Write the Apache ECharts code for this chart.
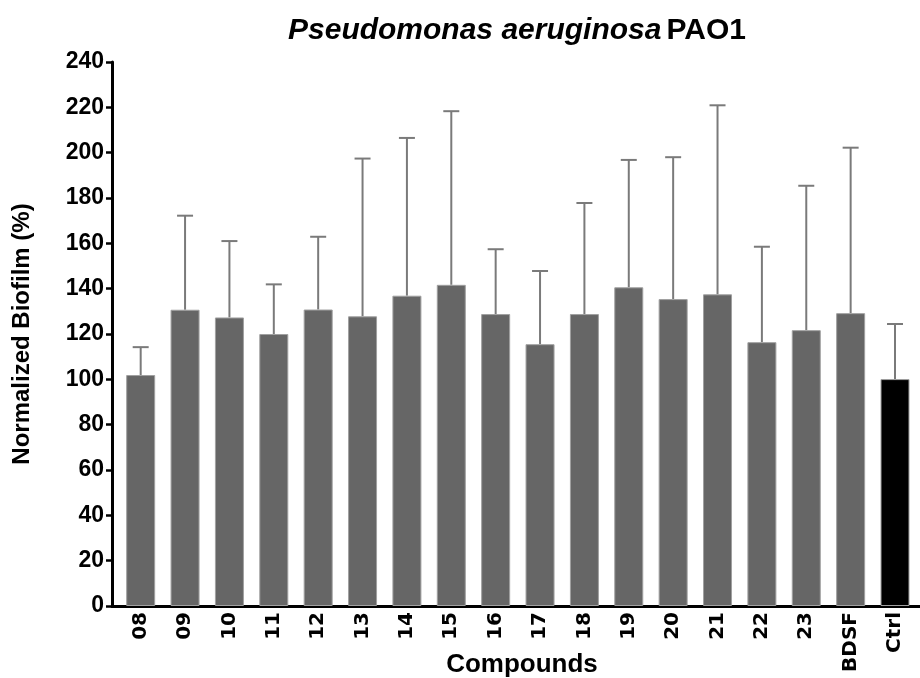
<!DOCTYPE html>
<html>
<head>
<meta charset="utf-8">
<script src="https://cdn.jsdelivr.net/npm/echarts@6/dist/echarts.min.js"></script>
<style>
  html, body { margin: 0; padding: 0; background: #fff; }
  #chart { width: 920px; height: 678px; }
</style>
</head>
<body>
<div id="chart"></div>
<script>
const categories = ['08','09','10','11','12','13','14','15','16','17','18','19','20','21','22','23','BDSF','Ctrl'];
const means = [101.9,130.7,127.3,120.0,130.8,127.8,136.9,141.7,128.8,115.5,128.8,140.6,135.4,137.5,116.4,121.7,129.2,100.1];
const sds = [12.3,41.5,33.7,21.9,32.1,69.6,69.6,76.6,28.6,32.3,49.0,56.2,62.6,83.4,42.1,63.7,73.0,24.3];
const yTicks = { min: 0, max: 240, interval: 20 };

const chart = echarts.init(document.getElementById('chart'), null, { renderer: 'canvas' });

const barData = means.map((v, i) => ({
  value: v,
  itemStyle: { color: categories[i] === 'Ctrl' ? '#000000' : '#666666' }
}));
const errData = means.map((v, i) => [i, v, v + sds[i]]);

const labelFont = 'DejaVu Sans';
const nameFont = 'Liberation Sans, Arial, Helvetica, sans-serif';

chart.setOption({
  animation: false,
  backgroundColor: '#ffffff',
  title: {
    left: 283,
    top: 11,
    text: '{i|Pseudomonas aeruginosa} {b|PAO1}',
    textStyle: {
      rich: {
        i: { fontFamily: nameFont, fontSize: 30, fontWeight: 'bold', fontStyle: 'italic', color: '#000' },
        b: { fontFamily: nameFont, fontSize: 30, fontWeight: 'bold', color: '#000' }
      }
    }
  },
  grid: [
    { left: 118.5, right: 2.8, top: 62, bottom: 72, containLabel: false, outerBoundsMode: 'none' },
    { left: 112, right: 0, top: 62, bottom: 72, containLabel: false, outerBoundsMode: 'none' }
  ],
  xAxis: [
    {
      type: 'category',
      gridIndex: 0,
      data: categories,
      axisLine: { show: false },
      axisTick: { show: false },
      axisLabel: {
        rotate: 90,
        margin: 6,
        interval: 0,
        fontFamily: labelFont,
        fontSize: 20,
        fontWeight: 'bold',
        color: '#000'
      }
    },
    {
      type: 'value',
      gridIndex: 1,
      min: 0,
      max: 1,
      axisLine: { show: true, lineStyle: { color: '#000', width: 3 } },
      axisTick: { show: false },
      axisLabel: { show: false },
      splitLine: { show: false },
      name: 'Compounds',
      nameLocation: 'middle',
      nameGap: 46,
      nameTextStyle: { fontFamily: nameFont, fontSize: 26, fontWeight: 'bold', color: '#000', padding: [0, 0, 0, 12] }
    }
  ],
  yAxis: [
    {
      type: 'value',
      gridIndex: 0,
      min: yTicks.min,
      max: yTicks.max,
      interval: yTicks.interval,
      show: false
    },
    {
      type: 'value',
      gridIndex: 1,
      min: yTicks.min,
      max: yTicks.max,
      interval: yTicks.interval,
      axisLine: { show: true, lineStyle: { color: '#000', width: 3 } },
      axisTick: { show: true, length: 6, lineStyle: { color: '#000', width: 2.5 } },
      axisLabel: {
        margin: 8,
        fontFamily: nameFont,
        fontSize: 23,
        fontWeight: 'bold',
        color: '#000'
      },
      splitLine: { show: false },
      name: 'Normalized Biofilm (%)',
      nameLocation: 'middle',
      nameGap: 78,
      nameTextStyle: { fontFamily: nameFont, fontSize: 24, fontWeight: 'bold', color: '#000' }
    }
  ],
  series: [
    {
      type: 'custom',
      xAxisIndex: 0,
      yAxisIndex: 0,
      z: 1,
      data: errData,
      renderItem: function (params, api) {
        const x = api.value(0);
        const base = api.coord([x, api.value(1)]);
        const top = api.coord([x, api.value(2)]);
        const half = 8;
        const style = { stroke: '#7a7a7a', lineWidth: 2 };
        return {
          type: 'group',
          children: [
            { type: 'line', shape: { x1: base[0], y1: base[1], x2: top[0], y2: top[1] }, style: style },
            { type: 'line', shape: { x1: top[0] - half, y1: top[1], x2: top[0] + half, y2: top[1] }, style: style }
          ]
        };
      }
    },
    {
      type: 'bar',
      xAxisIndex: 0,
      yAxisIndex: 0,
      z: 2,
      barWidth: 29,
      data: barData,
      itemStyle: { borderColor: '#a0a0a0', borderWidth: 1 }
    }
  ]
});
</script>
</body>
</html>
